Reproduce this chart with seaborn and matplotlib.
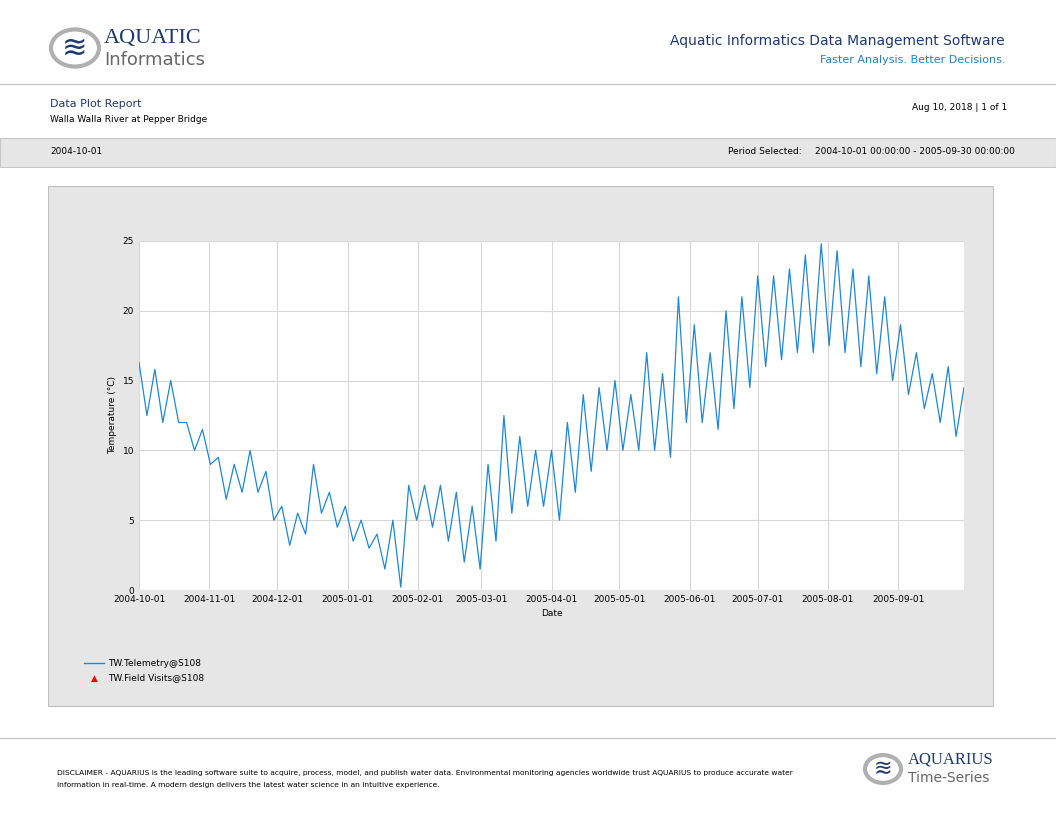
import matplotlib
matplotlib.use("Agg")
import matplotlib.pyplot as plt
from matplotlib.patches import Rectangle, Circle
import seaborn as sns
import pandas as pd

# estimated weekly high / low temperature, starting 2004-10-01
week_high = [16.3, 15.8, 15, 12, 11.5, 9.5, 9, 10, 8.5, 6, 5.5, 9, 7, 6, 5, 4, 5,
             7.5, 7.5, 7.5, 7, 6, 9, 12.5, 11, 10, 10, 12, 14, 14.5, 15, 14, 17,
             15.5, 21, 19, 17, 20, 21, 22.5, 22.5, 23, 24, 24.8, 24.3, 23, 22.5,
             21, 19, 17, 15.5, 16, 14.5]
week_low = [12.5, 12, 12, 10, 9, 6.5, 7, 7, 5, 3.2, 4, 5.5, 4.5, 3.5, 3, 1.5, 0.2,
            5, 4.5, 3.5, 2, 1.5, 3.5, 5.5, 6, 6, 5, 7, 8.5, 10, 10, 10, 10, 9.5,
            12, 12, 11.5, 13, 14.5, 16, 16.5, 17, 17, 17.5, 17, 16, 15.5, 15, 14,
            13, 12, 11, 11.5]

temps = []
for hi, lo in zip(week_high, week_low):
    temps += [hi, lo]
dates = pd.date_range("2004-10-01", periods=len(temps), freq="84h")
df = pd.DataFrame({"Date": dates, "Temp": temps})
df = df[df.Date <= "2005-09-30"]

blue = "#1f87d6"
navy = "#1f3a6e"
fig = plt.figure(figsize=(10.56, 8.16), dpi=100)
W, H = 1056, 816

def fx(x): return x / W
def fy(y): return 1 - y / H

# header
for cx, cy, r in [(75, 48, 24), (883, 769, 18)]:
    fig.add_artist(Circle((fx(cx), fy(cy)), r / W, transform=fig.transFigure,
                          facecolor="white", edgecolor="#b0b0b0", lw=3, zorder=-2))
    fig.text(fx(cx), fy(cy), "≋", color=navy, fontsize=22 if r > 20 else 16,
             ha="center", va="center")
fig.text(fx(104), fy(38), "AQUATIC", color=navy, fontsize=16, va="center", family="Liberation Serif")
fig.text(fx(104), fy(60), "Informatics", color="#666666", fontsize=13, va="center")
fig.text(fx(908), fy(760), "AQUARIUS", color=navy, fontsize=12, va="center", family="Liberation Serif")
fig.text(fx(908), fy(778), "Time-Series", color="#666666", fontsize=10, va="center")
fig.text(fx(1005), fy(41), "Aquatic Informatics Data Management Software",
         color=navy, fontsize=10, ha="right", va="center")
fig.text(fx(1005), fy(60), "Faster Analysis. Better Decisions.", color="#2a7fc0",
         fontsize=8, ha="right", va="center")
for y in [84, 738]:
    fig.add_artist(plt.Line2D([0, 1], [fy(y), fy(y)], color="#c8c8c8", lw=1, zorder=-2))
fig.text(fx(50), fy(104), "Data Plot Report", color=navy, fontsize=8, va="center")
fig.text(fx(50), fy(119), "Walla Walla River at Pepper Bridge", fontsize=6.5, va="center")
fig.text(fx(1007), fy(107), "Aug 10, 2018 | 1 of 1", fontsize=6.5, ha="right", va="center")
fig.add_artist(Rectangle((0, fy(167)), 1, 29 / H, transform=fig.transFigure,
                         facecolor="#e6e6e6", edgecolor="#c8c8c8", lw=0.8, zorder=-2))
fig.text(fx(50), fy(152), "2004-10-01", fontsize=6.5, va="center")
fig.text(fx(728), fy(152), "Period Selected:", fontsize=6.5, va="center")
fig.text(fx(1015), fy(152), "2004-10-01 00:00:00 - 2005-09-30 00:00:00",
         fontsize=6.5, ha="right", va="center")
fig.add_artist(Rectangle((fx(48), fy(706)), 945 / W, 520 / H, transform=fig.transFigure,
                         facecolor="#e6e6e6", edgecolor="#c0c0c0", lw=0.8, zorder=-2))
fig.text(fx(57), fy(779), "DISCLAIMER - AQUARIUS is the leading software suite to acquire, process, model, and publish water data. "
         "Environmental monitoring agencies worldwide trust AQUARIUS to produce accurate water\n"
         "information in real-time. A modern design delivers the latest water science in an intuitive experience.",
         fontsize=5.4, va="center", linespacing=2.0)

ax = fig.add_axes([fx(139), fy(590), (964 - 139) / W, (590 - 241) / H])
ax.set_zorder(2)
sns.lineplot(data=df, x="Date", y="Temp", ax=ax, color=blue, lw=0.9,
             label="TW.Telemetry@S108", legend=False)
ax.set_facecolor("white")
ax.set_xlim(pd.Timestamp("2004-10-01"), pd.Timestamp("2005-09-30"))
ax.set_ylim(0, 25)
ticks = pd.date_range("2004-10-01", "2005-09-01", freq="MS")
ax.set_xticks(ticks)
ax.set_xticklabels([t.strftime("%Y-%m-%d") for t in ticks], fontsize=6.5)
ax.set_yticks([0, 5, 10, 15, 20, 25])
ax.tick_params(axis="y", labelsize=6.5, length=0)
ax.tick_params(axis="x", length=0)
ax.grid(True, color="#d8d8d8", lw=0.8)
for s in ax.spines.values():
    s.set_visible(False)
ax.set_xlabel("Date", fontsize=6.5)
ax.set_ylabel("Temperature (°C)", fontsize=6.5)

fig.add_artist(plt.Line2D([fx(84), fx(104)], [fy(663), fy(663)], color=blue, lw=1))
fig.text(fx(108), fy(663), "TW.Telemetry@S108", fontsize=6.5, va="center")
fig.text(fx(94), fy(678), "▲", color="red", fontsize=6.5, ha="center", va="center")
fig.text(fx(108), fy(678), "TW.Field Visits@S108", fontsize=6.5, va="center")

fig.savefig("out.png", dpi=100)
